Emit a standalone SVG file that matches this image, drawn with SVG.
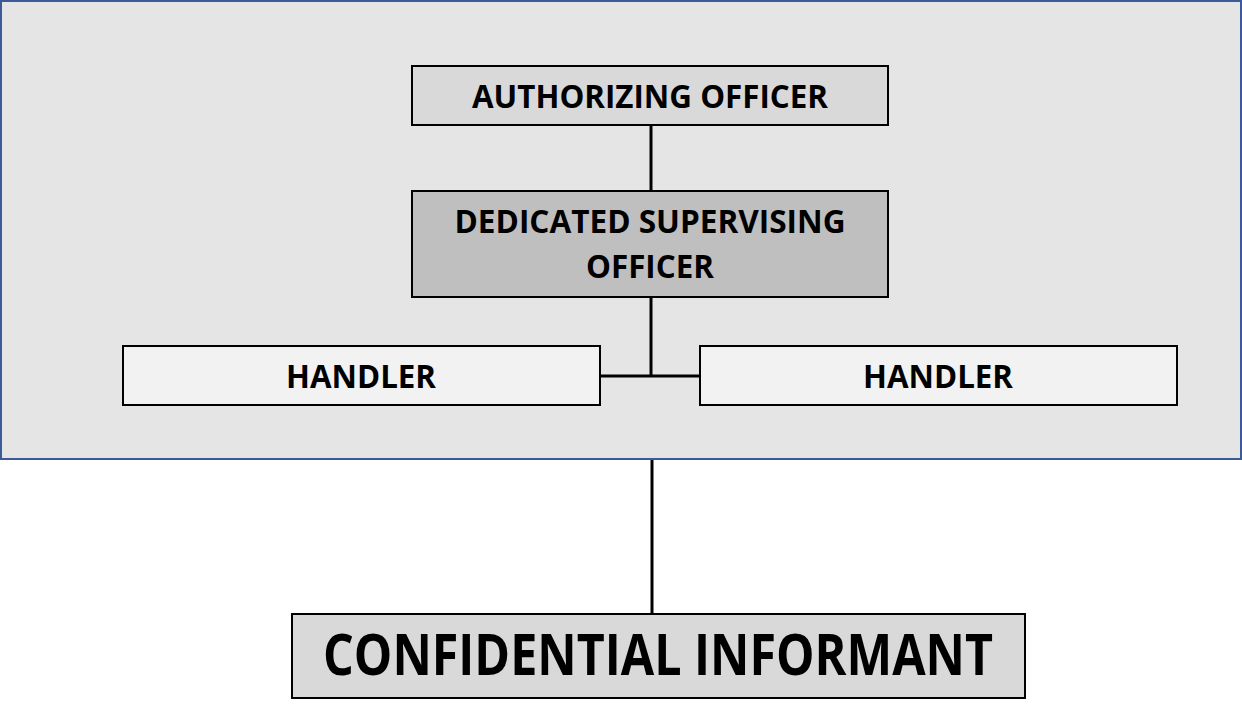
<svg xmlns="http://www.w3.org/2000/svg" width="1242" height="727" viewBox="0 0 1242 727">
<style>
.box{stroke:#000;stroke-width:2}
.t{font-family:"Open Sans","Noto Sans","Liberation Sans",sans-serif;font-weight:bold;fill:#000;text-anchor:middle}
.m{font-size:33px}
.c{stroke:#000;stroke-width:3;fill:none}
</style>
<rect x="0" y="0" width="1242" height="727" fill="#ffffff"/>
<rect id="panel" x="1" y="1" width="1240" height="458" fill="#e5e5e5" stroke="#3a5b98" stroke-width="2"/>
<g id="connectors">
<line class="c" x1="651" y1="125" x2="651" y2="191"/>
<line class="c" x1="651" y1="297" x2="651" y2="376"/>
<line class="c" x1="600" y1="376" x2="700" y2="376"/>
<line class="c" x1="652" y1="460" x2="652" y2="614"/>
</g>
<g id="authorizing">
<rect class="box" x="412" y="66" width="476" height="59" fill="#d9d9d9"/>
<text class="t m" x="650" y="108" textLength="356" lengthAdjust="spacingAndGlyphs">AUTHORIZING OFFICER</text>
</g>
<g id="dso">
<rect class="box" x="412" y="191" width="476" height="106" fill="#bfbfbf"/>
<text class="t m" x="650" y="233" textLength="391" lengthAdjust="spacingAndGlyphs">DEDICATED SUPERVISING</text>
<text class="t m" x="650" y="278" textLength="128" lengthAdjust="spacingAndGlyphs">OFFICER</text>
</g>
<g id="handler1">
<rect class="box" x="123" y="346" width="477" height="59" fill="#f2f2f2"/>
<text class="t m" x="361" y="388" textLength="150" lengthAdjust="spacingAndGlyphs">HANDLER</text>
</g>
<g id="handler2">
<rect class="box" x="700" y="346" width="477" height="59" fill="#f2f2f2"/>
<text class="t m" x="938" y="388" textLength="150" lengthAdjust="spacingAndGlyphs">HANDLER</text>
</g>
<g id="informant">
<rect class="box" x="292" y="614" width="733" height="84" fill="#d9d9d9"/>
<text class="t" x="658" y="675" font-size="58" textLength="670" lengthAdjust="spacingAndGlyphs">CONFIDENTIAL INFORMANT</text>
</g>
</svg>
